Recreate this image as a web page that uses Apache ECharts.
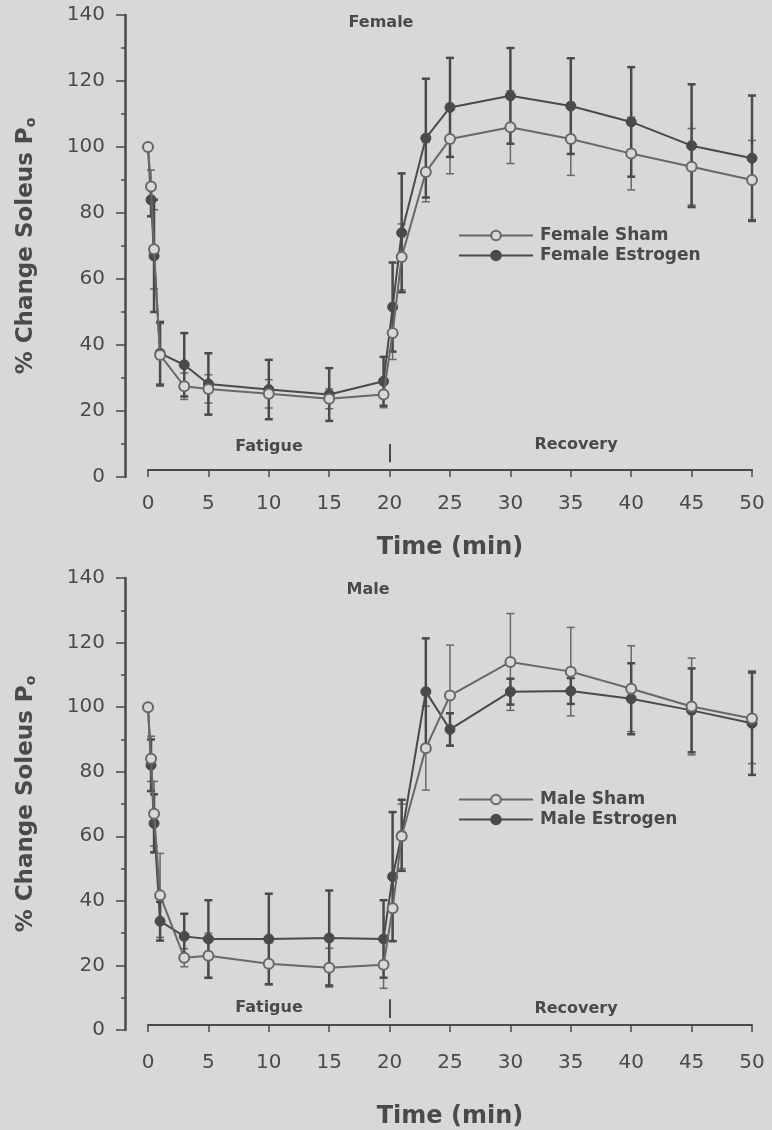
<!DOCTYPE html>
<html>
<head>
<meta charset="utf-8">
<script src="https://cdn.jsdelivr.net/npm/echarts@6/dist/echarts.min.js"></script>
<style>
  html, body { margin: 0; padding: 0; background: #d8d7da; }
  #chart { width: 772px; height: 1130px; }
</style>
</head>
<body>
<div id="chart"></div>
<script>
// time points (min) shared by all four groups
const time = [0, 0.25, 0.5, 1, 3, 5, 10, 15, 19.5, 20.25, 21, 23, 25, 30, 35, 40, 45, 50];

const femaleSham = [100, 88, 69, 37, 27.5, 26.7, 25.2, 23.7, 25, 43.6, 66.7, 92.4, 102.4, 106, 102.4, 98, 94, 90];
const femaleShamErr = [0, 5, 12, 9.5, 4, 4.3, 4.3, 3, 4, 8, 10, 9, 10.5, 11, 11, 11, 11.6, 12];
const femaleEstrogen = [100, 84, 67, 37.5, 34, 28.2, 26.5, 25, 29, 51.5, 74, 102.7, 112, 115.5, 112.4, 107.6, 100.4, 96.6];
const femaleEstrogenErr = [0, 5, 17, 9.5, 9.6, 9.3, 9, 8, 7.4, 13.5, 18, 18, 15, 14.5, 14.5, 16.6, 18.6, 19];

const maleSham = [100, 84, 67, 41.7, 22.4, 23, 20.5, 19.3, 20.2, 37.7, 60, 87.3, 103.6, 114, 111, 105.7, 100.2, 96.5];
const maleShamErr = [0, 7, 10, 13, 2.8, 7, 6.5, 6, 7.3, 10, 10, 13, 15.6, 15, 13.7, 13.3, 15, 14];
const maleEstrogen = [100, 82, 64, 33.7, 29, 28.2, 28.2, 28.5, 28.2, 47.5, 60.3, 104.8, 93.1, 104.8, 105, 102.6, 99, 95];
const maleEstrogenErr = [0, 8, 9, 6, 7, 12, 14, 14.7, 12, 20, 11, 16.5, 5, 4, 4, 11, 13, 16];

const INK = '#4a4a4a';
const SHAM = '#686868';
const BG = '#d8d7da';
const FONT = 'DejaVu Sans';

const pairs = (vals) => time.map((t, i) => [t, vals[i]]);
const bars = (vals, errs) =>
  time.map((t, i) => [t, vals[i] - errs[i], vals[i] + errs[i]]).filter((d, i) => errs[i] > 0);

const errorBar = (color, width) => (params, api) => {
  const x = api.value(0);
  const top = api.coord([x, api.value(2)]);
  const bot = api.coord([x, api.value(1)]);
  const half = 4;
  const style = { stroke: color, lineWidth: width };
  return {
    type: 'group',
    children: [
      { type: 'line', shape: { x1: top[0], y1: top[1], x2: bot[0], y2: bot[1] }, style },
      { type: 'line', shape: { x1: top[0] - half, y1: top[1], x2: top[0] + half, y2: top[1] }, style },
      { type: 'line', shape: { x1: bot[0] - half, y1: bot[1], x2: bot[0] + half, y2: bot[1] }, style }
    ]
  };
};

const xAxisFor = (gridIndex, offset, nameGap, labelMargin) => ({
  gridIndex,
  type: 'value',
  min: 0,
  max: 50,
  interval: 5,
  offset,
  name: 'Time (min)',
  nameLocation: 'middle',
  nameGap,
  nameTextStyle: { fontFamily: FONT, fontSize: 24, fontWeight: 'bold', color: INK },
  axisLine: { show: true, onZero: false, lineStyle: { color: INK, width: 2 } },
  axisTick: { show: true, length: 7, lineStyle: { color: INK, width: 1.5 } },
  axisLabel: { fontFamily: FONT, fontSize: 20, color: INK, margin: labelMargin },
  splitLine: { show: false }
});

const yAxisFor = (gridIndex) => ({
  gridIndex,
  type: 'value',
  min: 0,
  max: 140,
  interval: 20,
  offset: 23,
  name: '% Change Soleus P{sub|o}',
  nameLocation: 'middle',
  nameRotate: 90,
  nameGap: 87,
  nameTextStyle: {
    fontFamily: FONT, fontSize: 23, fontWeight: 'bold', color: INK,
    rich: { sub: { fontFamily: FONT, fontSize: 14, fontWeight: 'bold', color: INK, padding: [10, 0, 0, 0] } }
  },
  axisLine: { show: true, onZero: false, lineStyle: { color: INK, width: 2.5 } },
  axisTick: { show: true, length: 9, lineStyle: { color: INK, width: 1.5 } },
  minorTick: { show: true, splitNumber: 2, length: 4, lineStyle: { color: INK, width: 1.5 } },
  axisLabel: { fontFamily: FONT, fontSize: 20, color: INK, margin: 20 },
  splitLine: { show: false }
});

const lineSeries = (name, vals, idx, filled, dash) => ({
  name,
  type: 'line',
  xAxisIndex: idx,
  yAxisIndex: idx,
  data: pairs(vals),
  symbol: 'circle',
  symbolSize: 10,
  z: filled ? 4 : 5,
  lineStyle: { color: filled ? INK : SHAM, width: 2 },
  itemStyle: filled
    ? { color: INK, borderColor: INK, borderWidth: 1 }
    : { color: BG, borderColor: SHAM, borderWidth: 2 },
  markLine: dash ? {
    silent: true,
    symbol: 'none',
    label: { show: false },
    lineStyle: { color: INK, width: 2, type: 'solid' },
    data: [[{ coord: [20, dash[0]] }, { coord: [20, dash[1]] }]]
  } : undefined
});

const barSeries = (vals, errs, idx, color, width) => ({
  type: 'custom',
  xAxisIndex: idx,
  yAxisIndex: idx,
  data: bars(vals, errs),
  renderItem: errorBar(color, width),
  z: 3,
  silent: true
});

const text = (str, x, y) => ({
  type: 'text',
  x,
  y,
  style: { text: str, fontFamily: FONT, fontSize: 16, fontWeight: 'bold', fill: INK, align: 'center', verticalAlign: 'middle' }
});

const legendFor = (names, top) => ({
  data: names,
  orient: 'vertical',
  left: 453,
  top,
  itemWidth: 74,
  itemHeight: 12,
  itemGap: 3,
  textStyle: { fontFamily: FONT, fontSize: 17, fontWeight: 'bold', color: INK, padding: [0, 0, 0, 2] },
  selectedMode: false
});

const chart = echarts.init(document.getElementById('chart'), null, { renderer: 'canvas' });

chart.setOption({
  backgroundColor: BG,
  animation: false,
  grid: [
    { left: 148, top: 15, width: 604, height: 462 },
    { left: 148, top: 578, width: 604, height: 457 }
  ],
  xAxis: [xAxisFor(0, -7, 66, 24), xAxisFor(1, -5, 80, 28)],
  yAxis: [yAxisFor(0), yAxisFor(1)],
  legend: [
    legendFor(['Female Sham', 'Female Estrogen'], 222),
    legendFor(['Male Sham', 'Male Estrogen'], 786)
  ],
  graphic: [
    text('Female', 381, 23),
    text('Fatigue', 269, 447),
    text('Recovery', 576, 445),
    text('Male', 368, 590),
    text('Fatigue', 269, 1008),
    text('Recovery', 576, 1009)
  ],
  series: [
    barSeries(femaleSham, femaleShamErr, 0, SHAM, 1.5),
    barSeries(femaleEstrogen, femaleEstrogenErr, 0, INK, 2.5),
    lineSeries('Female Sham', femaleSham, 0, false),
    lineSeries('Female Estrogen', femaleEstrogen, 0, true, [4.5, 10]),
    barSeries(maleSham, maleShamErr, 1, SHAM, 1.5),
    barSeries(maleEstrogen, maleEstrogenErr, 1, INK, 2.5),
    lineSeries('Male Sham', maleSham, 1, false),
    lineSeries('Male Estrogen', maleEstrogen, 1, true, [3.7, 9.5])
  ]
});
</script>
</body>
</html>
